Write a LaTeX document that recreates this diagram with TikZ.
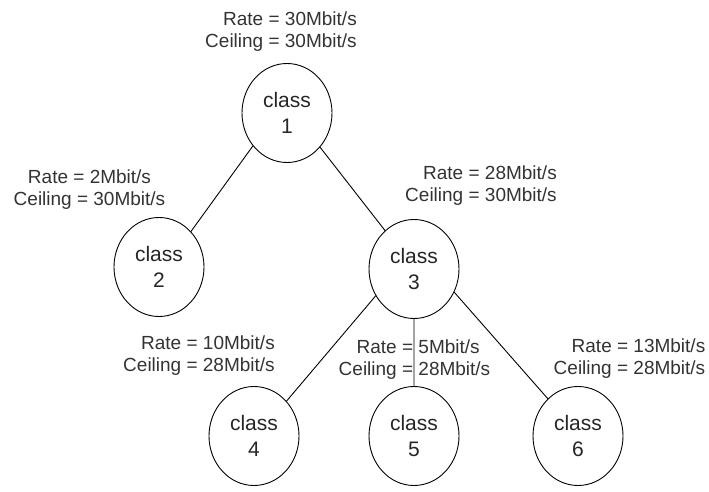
\documentclass[tikz,border=0pt]{standalone}
\usepackage{fontspec}
\setmainfont{Liberation Sans}
\usetikzlibrary{shapes.geometric}
% rate and ceiling of one class, lined up at the = sign
\newcommand{\ratecl}[2]{\begin{tabular}{@{}r@{\ =\ }l@{}}Rate & #1\\Ceiling & #2\end{tabular}}
\begin{document}
\begin{tikzpicture}[x=1pt, y=1pt, line join=round, line cap=round,
	cls/.style={ellipse, draw, line width=0.9pt, minimum width=90pt, minimum height=99pt, inner sep=0pt, align=center, text=black!85, font=\fontsize{21}{26}\selectfont},
	lbl/.style={inner sep=0pt, align=center, text=black!80, font=\fontsize{19}{22}\selectfont}]
	\useasboundingbox (0,0) rectangle (709,491);
	% the classes
	\node[cls] (c1) at (287,378) {class\\1};
	\node[cls] (c2) at (159,224) {class\\2};
	\node[cls] (c3) at (414,222) {class\\3};
	\node[cls] (c4) at (254,55) {class\\4};
	\node[cls] (c5) at (414,55) {class\\5};
	\node[cls] (c6) at (578,55) {class\\6};
	% rates
	\node[lbl] (r1) at (281,459) {\ratecl{30Mbit/s}{30Mbit/s}};
	\node[lbl] (r2) at (89.5,301) {Rate = 2Mbit/s\\Ceiling = 30Mbit/s};
	\node[lbl] (r3) at (481,305) {\ratecl{28Mbit/s}{30Mbit/s}};
	\node[lbl] (r4) at (199,135) {\ratecl{10Mbit/s}{28Mbit/s}};
	\node[lbl] (r5) at (414.5,131) {\ratecl{5Mbit/s}{28Mbit/s}};
	\node[lbl] (r6) at (629.5,132) {\ratecl{13Mbit/s}{28Mbit/s}};
	% tree
	\draw[line width=0.9pt] (c1.224) -- (c2.48) (c1.314) -- (c3.127)
		(c3.215) -- (c4.47) (c3.south) -- (c5.north) (c3.330) -- (c6.129);
\end{tikzpicture}
\end{document}
